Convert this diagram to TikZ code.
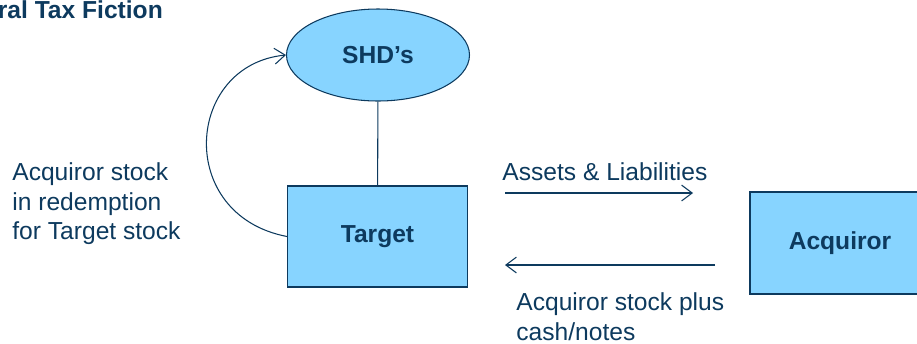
\documentclass[tikz,border=0pt]{standalone}
\usepackage{fontspec}
\setmainfont{Liberation Sans}
\usetikzlibrary{shapes.geometric, arrows.meta}
\definecolor{navy}{HTML}{0D3A5E}
\definecolor{skyfill}{HTML}{87D4FF}
\begin{document}
\begin{tikzpicture}[
    every node/.style = {text = navy, font = \fontsize{14}{16.8}\selectfont},
    box/.style = {draw = navy, line width = 0.6pt, fill = skyfill, minimum width = 3.6cm, font = \fontsize{14}{16.8}\selectfont\bfseries},
    lab/.style = {inner sep = 0pt, align = left},
    flow/.style = {draw = navy, line width = 0.6pt, -{Straight Barb[length = 6pt, width = 9pt]}}]
    \useasboundingbox (0,0) rectangle (18.34,-6.86);
    \draw (-0.05,-0.37)node(title)[anchor = base west, inner sep = 0pt, font = \fontsize{14}{16.8}\selectfont\bfseries]{ral Tax Fiction}
    (7.56,-1.1)node(shd)[box, ellipse, minimum width = 3.66cm, minimum height = 1.84cm, inner sep = 0pt]{SHD’s}
    (7.55,-4.73)node(target)[box, minimum height = 2.02cm]{Target}
    (16.8,-4.86)node(acq)[box, minimum height = 2.04cm]{Acquiror};
    \draw [draw = navy, line width = 0.6pt](shd)--(target);
    % labels
    \draw (0.24,-3.25)node(redeem)[lab, anchor = north west]{Acquiror stock\\in redemption\\for Target stock}
    (10.04,-3.25)node(assets)[lab, anchor = north west]{Assets \& Liabilities}
    (10.32,-5.85)node(consid)[lab, anchor = north west]{Acquiror stock plus\\cash/notes};
    % free ends of the transfers
    \coordinate (al1) at (10.1,-3.86);
    \coordinate (al2) at (13.86,-3.86);
    \coordinate (sp1) at (14.3,-5.3);
    \coordinate (sp2) at (10.1,-5.3);
    \draw [flow](al1)--(al2);
    \draw [flow](sp1)--(sp2);
    \draw [flow](target.west)..controls (3.5,-4.3) and (3.7,-1.3)..(shd.west);
\end{tikzpicture}
\end{document}
